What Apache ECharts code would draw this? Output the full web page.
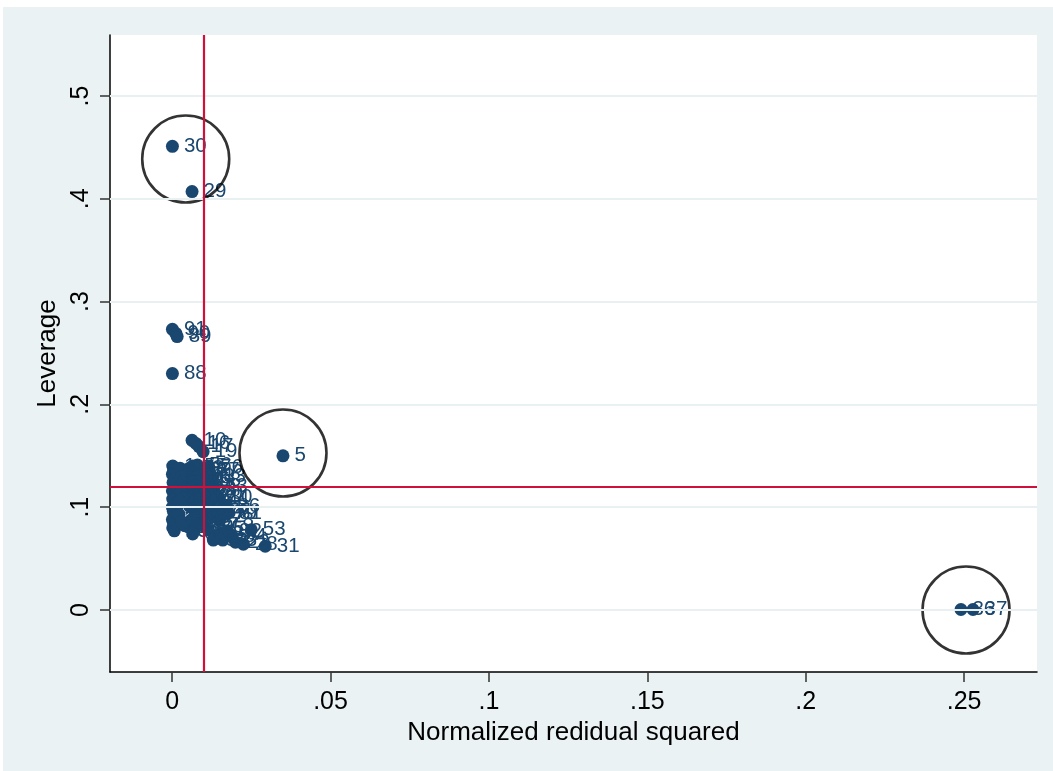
<!DOCTYPE html>
<html>
<head>
<meta charset="utf-8">
<script src="https://cdn.jsdelivr.net/npm/echarts@6/dist/echarts.min.js"></script>
<style>
html,body{margin:0;padding:0;background:#fff;}
#chart{width:1053px;height:771px;}
</style>
</head>
<body>
<div id="chart"></div>
<script>
// ---- data ----
const obsLabels = [30,29,91,90,89,88,5,36,37,10,16,17,19,31,53,22,28,63,62,
  1,2,3,4,6,7,8,9,11,12,13,14,15,18,20,21,23,24,25,26,
  27,32,33,34,35,38,39,40,41,42,43,44,45,
  46,47,48,49,50,51,52,54,55,56,57,58,59,60,61,64,65,66,67,68,69,
  70,71,72,73,74,75,76,77,78,79,80,81,82,83,84,85,86,87];
const normResidSq = [0.0001,0.0063,0.0001,0.0012,0.0016,0.0001,0.0350,0.2490,0.2528,0.0063,0.0075,0.0085,0.0098,0.0294,0.0250,0.0200,0.0225,0.0160,0.0130,
  0.0002,0.0005,0.0001,0.0008,0.0003,0.0010,0.0001,0.0006,0.0002,0.0012,0.0001,0.0004,0.0009,0.0001,0.0005,0.0002,0.0007,0.0015,0.0018,0.0014,
  0.0025,0.0030,0.0035,0.0028,0.0040,0.0045,0.0050,0.0022,0.0030,0.0040,0.0055,0.0060,0.0024,
  0.0065,0.0070,0.0075,0.0080,0.0085,0.0090,0.0095,0.0100,0.0065,0.0080,0.0105,0.0110,0.0068,0.0075,0.0072,0.0065,0.0085,0.0095,0.0100,0.0055,0.0062,
  0.0115,0.0120,0.0125,0.0130,0.0135,0.0115,0.0115,0.0140,0.0150,0.0160,0.0145,0.0175,0.0175,0.0125,0.0190,0.0135,0.0170,0.0155];
const leverageVals = [0.451,0.407,0.273,0.269,0.266,0.230,0.150,0.0005,0.0005,0.165,0.162,0.159,0.154,0.062,0.078,0.066,0.064,0.068,0.068,
  0.140,0.136,0.132,0.128,0.124,0.120,0.116,0.112,0.108,0.104,0.100,0.096,0.092,0.088,0.084,0.080,0.077,0.134,0.118,0.099,
  0.138,0.130,0.125,0.115,0.110,0.132,0.120,0.093,0.086,0.082,0.138,0.127,0.106,
  0.118,0.135,0.111,0.124,0.104,0.131,0.117,0.109,0.140,0.141,0.136,0.126,0.098,0.090,0.079,0.074,0.085,0.095,0.082,0.101,0.088,
  0.113,0.100,0.091,0.120,0.109,0.078,0.139,0.096,0.087,0.094,0.110,0.094,0.077,0.130,0.072,0.071,0.101,0.075];

const meanResidSq = 0.0101;   // vertical reference line
const meanLeverage = 0.1196;  // horizontal reference line

const circleX = [0.0043, 0.0350, 0.2506];
const circleY = [0.4387, 0.1527, 0.0000];

const xTicks = [0, 0.05, 0.1, 0.15, 0.2, 0.25];
const yTicks = [0, 0.1, 0.2, 0.3, 0.4, 0.5];

// ---- chart ----
const fmt = v => {
  let s = String(+v.toFixed(4));
  if (s.startsWith('0.')) s = s.slice(1);
  return s;
};
const FONT = "'Liberation Sans', Arial, sans-serif";
const NAVY = '#1a476f';

const points = obsLabels.map((id, i) => [normResidSq[i], leverageVals[i], id]);
const circles = circleX.map((x, i) => [x, circleY[i]]);

const chart = echarts.init(document.getElementById('chart'), null, {renderer: 'canvas'});
chart.setOption({
  animation: false,
  backgroundColor: '#ffffff',
  graphic: [{
    type: 'rect', z: -10, silent: true,
    shape: {x: 3, y: 7, width: 1050, height: 764},
    style: {fill: '#EAF2F3'}
  }],
  grid: {
    left: 110, top: 35, width: 927, height: 637,
    show: true, backgroundColor: '#ffffff', borderWidth: 0
  },
  xAxis: {
    type: 'value', min: -0.0196, max: 0.273,
    name: 'Normalized redidual squared', nameLocation: 'middle', nameGap: 43,
    nameTextStyle: {fontFamily: FONT, fontSize: 26, color: '#000'},
    axisLine: {show: true, onZero: false, lineStyle: {color: '#000', width: 1.5}},
    axisTick: {show: true, length: 10, customValues: xTicks, lineStyle: {color: '#333', width: 1.5}},
    axisLabel: {customValues: xTicks, formatter: fmt, margin: 18, fontFamily: FONT, fontSize: 25, color: '#000'},
    splitLine: {show: false}
  },
  yAxis: {
    type: 'value', min: -0.0603, max: 0.5593,
    name: 'Leverage', nameLocation: 'middle', nameGap: 45,
    nameTextStyle: {fontFamily: FONT, fontSize: 26, color: '#000'},
    axisLine: {show: true, onZero: false, lineStyle: {color: '#000', width: 1.5}},
    axisTick: {show: true, length: 10, customValues: yTicks, lineStyle: {color: '#333', width: 1.5}},
    axisLabel: {customValues: yTicks, formatter: fmt, rotate: 90, margin: 16, fontFamily: FONT, fontSize: 25, color: '#000'},
    splitLine: {show: false}
  },
  series: [
    {
      name: 'grid', type: 'scatter', data: [], z: 1, silent: true,
      markLine: {
        silent: true, symbol: 'none', animation: false,
        label: {show: false},
        lineStyle: {color: '#E8F0F2', width: 2, type: 'solid'},
        data: yTicks.map(v => ({yAxis: v}))
      }
    },
    {
      name: 'ref', type: 'scatter', data: [], z: 2, silent: true,
      markLine: {
        silent: true, symbol: 'none', animation: false,
        label: {show: false},
        lineStyle: {color: '#D0103A', width: 2.2, type: 'solid'},
        data: [{xAxis: meanResidSq}, {yAxis: meanLeverage}]
      }
    },
    {
      name: 'obs', type: 'scatter', z: 3, data: points,
      symbol: 'circle', symbolSize: 13,
      itemStyle: {color: NAVY, opacity: 1},
      label: {
        show: true, position: 'right', distance: 5,
        formatter: p => String(p.value[2]),
        fontFamily: FONT, fontSize: 20.5, color: NAVY
      },
      labelLayout: {hideOverlap: false}
    },
    {
      name: 'circles', type: 'scatter', z: 4, data: circles, silent: true,
      symbol: 'circle', symbolSize: 87,
      itemStyle: {color: 'rgba(0,0,0,0)', borderColor: '#000', borderWidth: 2.6}
    }
  ]
});
</script>
</body>
</html>
